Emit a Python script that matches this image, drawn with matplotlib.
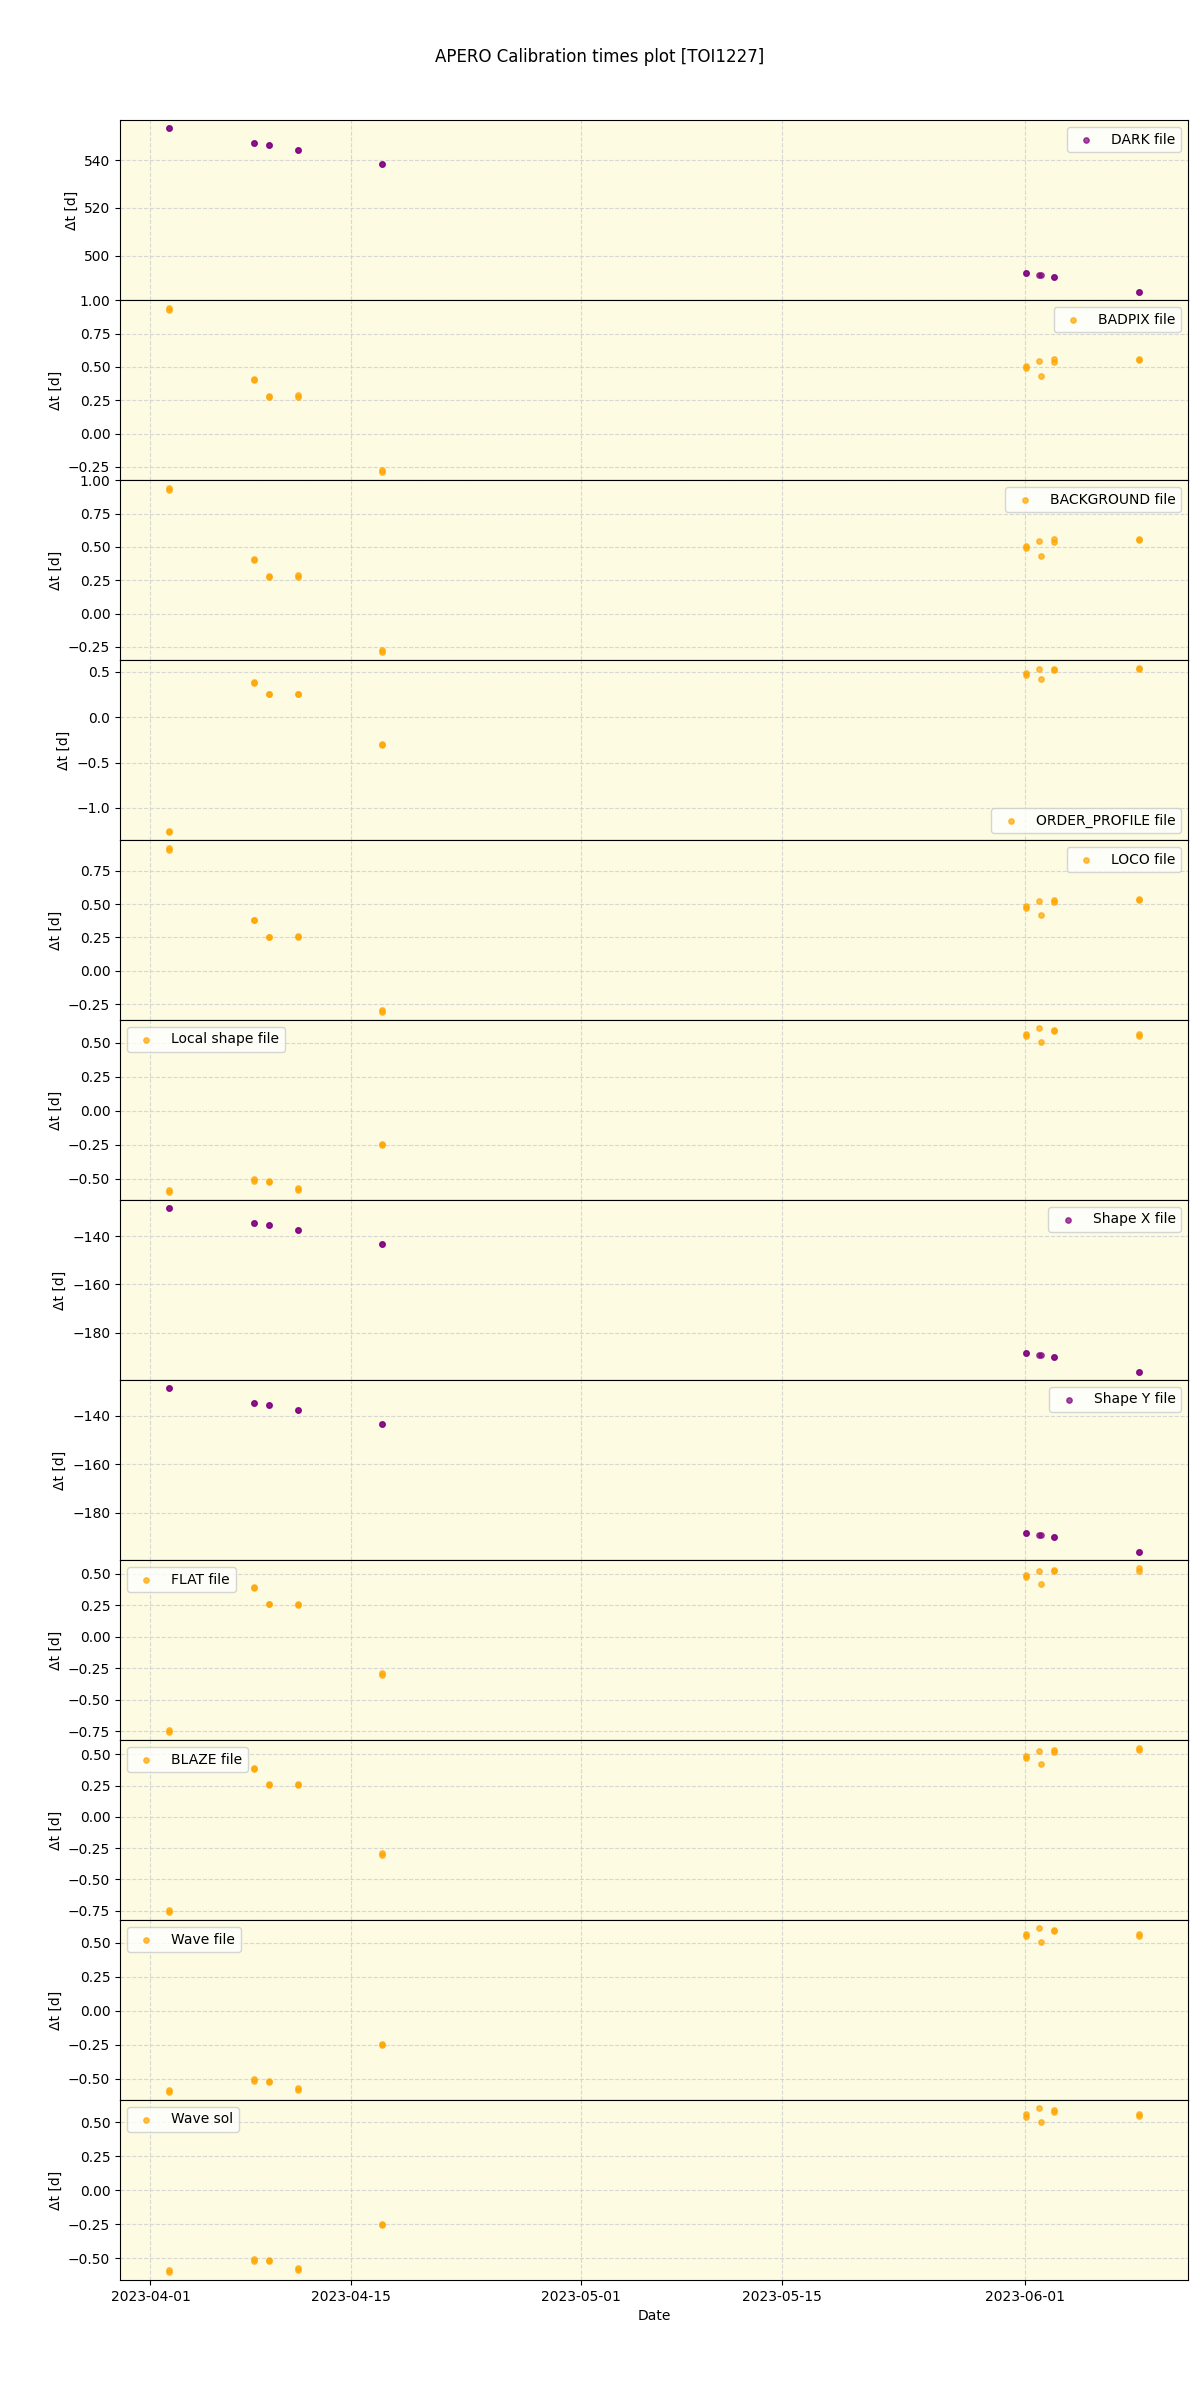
import matplotlib
matplotlib.use('Agg')
import matplotlib.pyplot as plt
import numpy as np

# observation times (same for every calibration type)
obs_times = np.array([
    '2023-04-02T06:15', '2023-04-02T06:15',
    '2023-04-08T04:35', '2023-04-08T04:35',
    '2023-04-09T05:30', '2023-04-09T05:30',
    '2023-04-11T06:15', '2023-04-11T06:15',
    '2023-04-17T02:50', '2023-04-17T02:50',
    '2023-06-01T00:30', '2023-06-01T00:30',
    '2023-06-01T23:15', '2023-06-02T02:10',
    '2023-06-03T00:30', '2023-06-03T00:30',
    '2023-06-08T22:50', '2023-06-08T22:50',
], dtype='datetime64[m]')

dark = [553.3, 553.3, 547.1, 547.1, 546.2, 546.2, 544.2, 544.2, 538.3, 538.3,
        492.8, 492.8, 492.0, 491.9, 491.1, 491.1, 484.9, 484.9]
badpix = [0.940, 0.925, 0.408, 0.403, 0.278, 0.274, 0.287, 0.272, -0.272, -0.287,
          0.506, 0.491, 0.544, 0.434, 0.556, 0.539, 0.562, 0.549]
background = [0.940, 0.925, 0.408, 0.403, 0.278, 0.274, 0.287, 0.272, -0.272, -0.287,
              0.506, 0.491, 0.544, 0.434, 0.556, 0.539, 0.562, 0.549]
order_profile = [-1.255, -1.262, 0.382, 0.378, 0.256, 0.252, 0.258, 0.250, -0.298, -0.306,
                 0.482, 0.467, 0.523, 0.415, 0.526, 0.512, 0.537, 0.523]
loco = [0.917, 0.902, 0.382, 0.378, 0.255, 0.251, 0.262, 0.250, -0.293, -0.305,
        0.487, 0.472, 0.525, 0.415, 0.532, 0.517, 0.537, 0.527]
local_shape = [-0.581, -0.596, -0.500, -0.515, -0.515, -0.522, -0.566, -0.581, -0.246, -0.252,
               0.564, 0.548, 0.609, 0.507, 0.598, 0.585, 0.568, 0.553]
shape_x = [-128.5, -128.5, -134.6, -134.6, -135.5, -135.5, -137.5, -137.5, -143.3, -143.3,
           -188.2, -188.2, -189.1, -189.2, -189.9, -189.9, -196.1, -196.1]
shape_y = [-128.5, -128.5, -134.6, -134.6, -135.5, -135.5, -137.5, -137.5, -143.3, -143.3,
           -188.4, -188.4, -189.2, -189.3, -190.0, -190.0, -196.2, -196.2]
flat = [-0.740, -0.756, 0.393, 0.383, 0.260, 0.255, 0.262, 0.252, -0.287, -0.303,
        0.485, 0.470, 0.522, 0.418, 0.532, 0.518, 0.543, 0.524]
blaze = [-0.743, -0.758, 0.393, 0.383, 0.260, 0.255, 0.262, 0.252, -0.287, -0.303,
         0.485, 0.470, 0.525, 0.418, 0.532, 0.520, 0.548, 0.530]
wave_file = [-0.581, -0.596, -0.500, -0.515, -0.515, -0.522, -0.566, -0.581, -0.246, -0.252,
             0.564, 0.548, 0.609, 0.507, 0.598, 0.585, 0.568, 0.553]
wave_sol = [-0.587, -0.600, -0.505, -0.518, -0.515, -0.522, -0.570, -0.584, -0.248, -0.252,
            0.559, 0.540, 0.604, 0.502, 0.593, 0.575, 0.562, 0.550]

panels = [
    ('DARK file', dark, 'purple', 'upper right'),
    ('BADPIX file', badpix, 'orange', 'upper right'),
    ('BACKGROUND file', background, 'orange', 'upper right'),
    ('ORDER_PROFILE file', order_profile, 'orange', 'lower right'),
    ('LOCO file', loco, 'orange', 'upper right'),
    ('Local shape file', local_shape, 'orange', 'upper left'),
    ('Shape X file', shape_x, 'purple', 'upper right'),
    ('Shape Y file', shape_y, 'purple', 'upper right'),
    ('FLAT file', flat, 'orange', 'upper left'),
    ('BLAZE file', blaze, 'orange', 'upper left'),
    ('Wave file', wave_file, 'orange', 'upper left'),
    ('Wave sol', wave_sol, 'orange', 'upper left'),
]

fig, axes = plt.subplots(len(panels), 1, figsize=(12, 24), dpi=100, sharex=True)
fig.subplots_adjust(left=0.1, right=0.99, top=0.95, bottom=0.05, hspace=0)

for ax, (label, vals, col, loc) in zip(axes, panels):
    ax.set_facecolor('#fdfbe1')
    ax.scatter(obs_times, vals, s=15, color=col, alpha=0.7, label=label, zorder=3)
    ax.grid(True, linestyle='--', color='lightgray', alpha=0.9)
    ax.set_axisbelow(True)
    ax.set_ylabel('Δt [d]')
    ax.legend(loc=loc)

axes[-1].set_xlabel('Date')
fig.suptitle('APERO Calibration times plot [TOI1227]', y=0.98)
plt.savefig('out.png')
